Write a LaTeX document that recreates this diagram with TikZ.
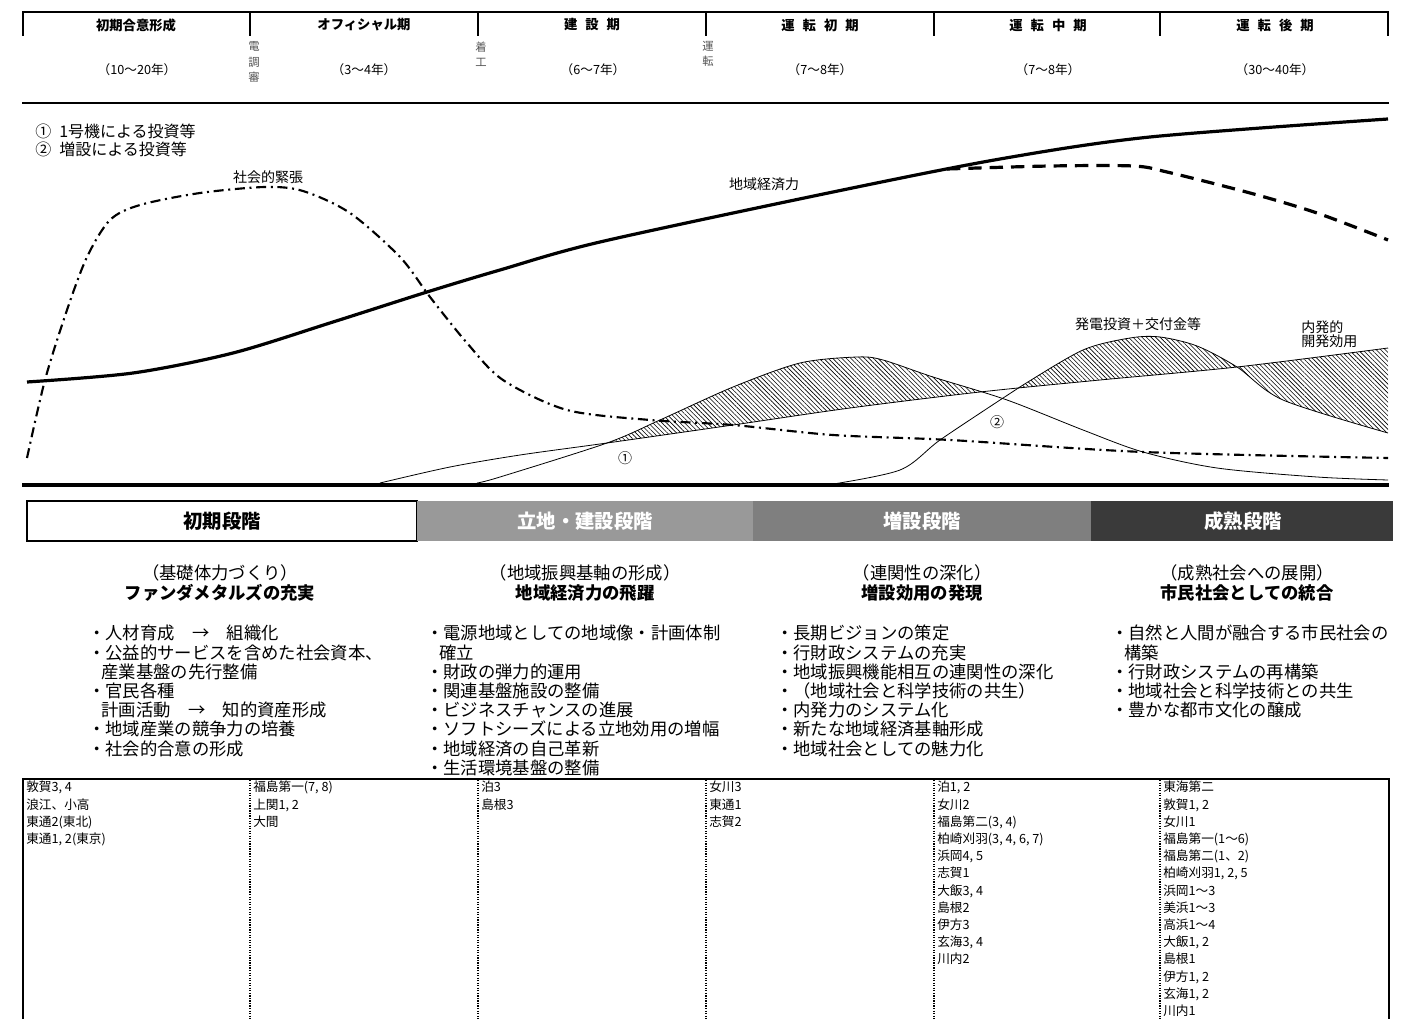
\documentclass[tikz,border=0pt]{standalone}
\usepackage{fontspec}
\setmainfont{Noto Sans CJK JP}
\usetikzlibrary{patterns.meta}
\definecolor{stagetwo}{HTML}{999999}
\definecolor{stagethree}{HTML}{7F7F7F}
\definecolor{stagefour}{HTML}{3A3A3A}
\definecolor{notegray}{HTML}{555555}

\newcommand{\econline}{plot[smooth] coordinates {(27,382) (133,373) (233,353) (333,322) (427,292) (500,270) (600,242) (833,192) (1000,159) (1150,137) (1388,119)}}
\newcommand{\declineline}{plot[smooth] coordinates {(947,169) (1050,166) (1133,166) (1167,172) (1250,193) (1317,213) (1388,240)}}
\newcommand{\tensionline}{plot[smooth] coordinates {(27,458) (45,380) (67,310) (87,257) (110,220) (140,205) (200,193) (265,187) (303,191) (350,213) (400,257) (430,297) (467,343) (503,380) (567,410) (650,420) (733,425) (833,435) (950,440) (1143,452) (1388,458)}}
\newcommand{\innerline}{plot[smooth] coordinates {(380,483) (450,467) (520,455) (607,443) (733,425) (850,408) (980,392) (1100,380) (1237,367) (1388,348)}}
\newcommand{\investone}{plot[smooth] coordinates {(477,483) (500,477) (607,443) (660,420) (733,387) (800,363) (857,357) (883,360) (933,377) (1007,400) (1083,430) (1143,452) (1217,468) (1317,477) (1388,480)}}
\newcommand{\investtwo}{plot[smooth] coordinates {(827,485) (900,470) (940,440) (1000,400) (1023,385) (1083,350) (1130,338) (1160,337) (1197,346) (1237,367) (1283,400) (1388,433)}}

\begin{document}
\begin{tikzpicture}[x=0.75pt, y=-0.75pt,
    periodlabel/.style={font=\fontsize{10}{10}\selectfont\bfseries},
    spanlabel/.style={font=\fontsize{9.5}{10}\selectfont},
    eventmark/.style={font=\fontsize{8.5}{11.6}\selectfont, text=notegray, align=center, inner sep=0pt},
    curvelabel/.style={font=\fontsize{10.5}{10.5}\selectfont, inner sep=0pt},
    stagelabel/.style={font=\fontsize{14.5}{15}\selectfont\bfseries},
    aim/.style={font=\fontsize{13}{14.6}\selectfont, align=center},
    measures/.style={font=\fontsize{13}{14.4}\selectfont, align=left, anchor=north west, inner sep=0pt},
    plants/.style={font=\fontsize{9.5}{12.9}\selectfont, align=left, anchor=north west, inner sep=0pt},
    hatch/.style={pattern={Lines[angle=-45, distance=2.4pt, line width=0.45pt]}},
    thinline/.style={line width=0.6pt},
    rule/.style={line width=2.2pt}]
    \useasboundingbox (0,0) rectangle (1408,1019);

    \draw[rule] (22,12) -- (1389,12);
    \foreach \x in {23,250,478,706,934,1160,1388}
        \draw[line width=1.8pt] (\x,12) -- (\x,36);
    \node[periodlabel] (consensus) at (136,25) {初期合意形成};
    \node[periodlabel] (official) at (364,25) {オフィシャル期};
    \node[periodlabel] (build) at (592,25) {建\hspace{6pt}設\hspace{6pt}期};
    \node[periodlabel] (earlyop) at (820,25) {運\hspace{6pt}転\hspace{6pt}初\hspace{6pt}期};
    \node[periodlabel] (midop) at (1048,25) {運\hspace{6pt}転\hspace{6pt}中\hspace{6pt}期};
    \node[periodlabel] (lateop) at (1275,25) {運\hspace{6pt}転\hspace{6pt}後\hspace{6pt}期};
    \node[spanlabel] (consensusspan) at (137,70) {（10～20年）};
    \node[spanlabel] (officialspan) at (364,70) {（3～4年）};
    \node[spanlabel] (buildspan) at (593,70) {（6～7年）};
    \node[spanlabel] (earlyopspan) at (820,70) {（7～8年）};
    \node[spanlabel] (midopspan) at (1048,70) {（7～8年）};
    \node[spanlabel] (lateopspan) at (1275,70) {（30～40年）};
    \node[eventmark] (council) at (254,62) {電\\調\\審};
    \node[eventmark] (groundbreak) at (481,54) {着\\工};
    \node[eventmark] (startup) at (708,54) {運\\転};
    \draw[rule] (22,103) -- (1389,103);

    \node[font=\fontsize{12}{13.5}\selectfont, align=left, anchor=north west, inner sep=0pt] (legend) at (35,124) {①\hspace{6pt}1号機による投資等\\②\hspace{6pt}増設による投資等};

    \begin{scope}
        \clip \investone -- (1388,495) -- (477,495) -- cycle;
        \fill[hatch] \innerline -- (1388,300) -- (380,300) -- cycle;
    \end{scope}
    \begin{scope}
        \clip \investtwo -- (1388,495) -- (827,495) -- cycle;
        \fill[hatch] \innerline -- (1388,300) -- (380,300) -- cycle;
    \end{scope}
    \begin{scope}
        \clip (1120,300) rectangle (1390,495);
        \clip \investtwo -- (1388,300) -- (827,300) -- cycle;
        \fill[hatch] \innerline -- (1388,495) -- (380,495) -- cycle;
    \end{scope}

    \draw[thinline] \innerline;
    \draw[thinline] \investone;
    \draw[thinline] \investtwo;
    \draw[line width=1.6pt, dash pattern=on 7.5pt off 3.5pt on 1.5pt off 3.5pt] \tensionline;
    \draw[line width=2.4pt] \econline;
    \draw[line width=2.4pt, dash pattern=on 10pt off 6pt] \declineline;
    \draw[line width=2.4pt] (22,485) -- (1389,485);

    \node[curvelabel] (tension) at (268,177) {社会的緊張};
    \node[curvelabel] (economy) at (764,184) {地域経済力};
    \node[curvelabel] (grants) at (1138,324) {発電投資＋交付金等};
    \node[curvelabel, align=left, anchor=north west] (endogenous) at (1301,320) {内発的\\開発効用};
    \node[curvelabel] (firstunit) at (625,458) {①};
    \node[curvelabel] (addedunit) at (997,422) {②};

    \draw[line width=0.8pt] (27,501) rectangle (417,541);
    \fill[stagetwo] (417,501) rectangle (753,541);
    \fill[stagethree] (753,501) rectangle (1091,541);
    \fill[stagefour] (1091,501) rectangle (1393,541);
    \node[stagelabel] (initial) at (222,521) {初期段階};
    \node[stagelabel, text=white] (siting) at (585,521) {立地・建設段階};
    \node[stagelabel, text=white] (expansion) at (922,521) {増設段階};
    \node[stagelabel, text=white] (maturity) at (1243,521) {成熟段階};

    \node[aim] (aimone) at (220,583) {（基礎体力づくり）\\\textbf{ファンダメタルズの充実}};
    \node[aim] (aimtwo) at (585,583) {（地域振興基軸の形成）\\\textbf{地域経済力の飛躍}};
    \node[aim] (aimthree) at (922,583) {（連関性の深化）\\\textbf{増設効用の発現}};
    \node[aim] (aimfour) at (1247,583) {（成熟社会への展開）\\\textbf{市民社会としての統合}};

    \node[measures] (measureone) at (88,625) {・人材育成　→　組織化\\・公益的サービスを含めた社会資本、\\\hspace*{10pt}産業基盤の先行整備\\・官民各種\\\hspace*{10pt}計画活動　→　知的資産形成\\・地域産業の競争力の培養\\・社会的合意の形成};
    \node[measures] (measuretwo) at (426,625) {・電源地域としての地域像・計画体制\\\hspace*{10pt}確立\\・財政の弾力的運用\\・関連基盤施設の整備\\・ビジネスチャンスの進展\\・ソフトシーズによる立地効用の増幅\\・地域経済の自己革新\\・生活環境基盤の整備};
    \node[measures] (measurethree) at (776,625) {・長期ビジョンの策定\\・行財政システムの充実\\・地域振興機能相互の連関性の深化\\・（地域社会と科学技術の共生）\\・内発力のシステム化\\・新たな地域経済基軸形成\\・地域社会としての魅力化};
    \node[measures] (measurefour) at (1111,625) {・自然と人間が融合する市民社会の\\\hspace*{10pt}構築\\・行財政システムの再構築\\・地域社会と科学技術との共生\\・豊かな都市文化の醸成};

    \draw[rule] (22,779) -- (1390,779);
    \draw[line width=1.8pt] (23,779) -- (23,1019);
    \draw[line width=1.8pt] (1389,779) -- (1389,1019);
    \foreach \x in {250,478,706,934,1160}
        \draw[densely dotted, line width=0.9pt] (\x,780) -- (\x,1019);
    \node[plants] (plantsone) at (26,781) {敦賀3, 4\\浪江、小高\\東通2(東北)\\東通1, 2(東京)};
    \node[plants] (plantstwo) at (253,781) {福島第一(7, 8)\\上関1, 2\\大間};
    \node[plants] (plantsthree) at (481,781) {泊3\\島根3};
    \node[plants] (plantsfour) at (709,781) {女川3\\東通1\\志賀2};
    \node[plants] (plantsfive) at (937,781) {泊1, 2\\女川2\\福島第二(3, 4)\\柏崎刈羽(3, 4, 6, 7)\\浜岡4, 5\\志賀1\\大飯3, 4\\島根2\\伊方3\\玄海3, 4\\川内2};
    \node[plants] (plantssix) at (1163,781) {東海第二\\敦賀1, 2\\女川1\\福島第一(1～6)\\福島第二(1、2)\\柏崎刈羽1, 2, 5\\浜岡1～3\\美浜1～3\\高浜1～4\\大飯1, 2\\島根1\\伊方1, 2\\玄海1, 2\\川内1};
\end{tikzpicture}
\end{document}
